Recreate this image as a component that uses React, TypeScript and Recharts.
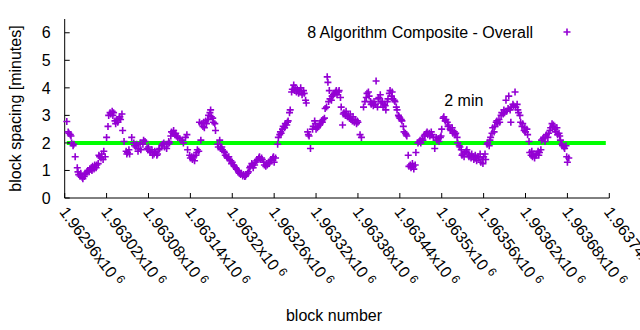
import React from "react";
import { ScatterChart, Scatter, XAxis, YAxis, ReferenceLine, ReferenceDot, Legend } from "recharts";

const BASE_BLOCK = 1962960;

const blockOffsets = [
  3, 5, 6, 8, 9, 10, 12, 13, 15, 18,
  19, 20, 22, 23, 25, 26, 28, 29, 30, 32,
  33, 35, 36, 38, 39, 40, 42, 43, 45, 46,
  48, 49, 50, 52, 53, 55, 56, 58, 60, 62,
  63, 65, 66, 68, 69, 70, 72, 73, 75, 76,
  78, 79, 80, 82, 83, 85, 88, 89, 90, 92,
  93, 96, 99, 100, 102, 103, 105, 106, 108, 109,
  112, 113, 115, 118, 119, 120, 122, 123, 125, 126,
  128, 129, 130, 132, 133, 135, 136, 139, 140, 142,
  143, 146, 148, 149, 150, 152, 153, 155, 156, 158,
  159, 160, 162, 165, 168, 170, 173, 175, 176, 179,
  180, 182, 183, 185, 186, 188, 189, 190, 192, 193,
  195, 196, 198, 199, 200, 202, 203, 205, 206, 208,
  209, 210, 212, 213, 215, 216, 219, 220, 222, 223,
  225, 226, 228, 229, 230, 232, 233, 235, 236, 238,
  239, 240, 242, 243, 245, 246, 248, 249, 250, 252,
  253, 255, 256, 258, 259, 260, 262, 263, 265, 266,
  268, 269, 270, 272, 273, 275, 276, 278, 279, 280,
  282, 283, 285, 286, 288, 289, 290, 292, 293, 295,
  296, 298, 299, 300, 302, 305, 306, 308, 309, 310,
  312, 313, 315, 316, 318, 319, 320, 322, 323, 325,
  326, 328, 329, 330, 332, 333, 335, 336, 338, 339,
  340, 342, 343, 345, 346, 348, 349, 350, 352, 355,
  356, 358, 359, 360, 362, 363, 365, 366, 368, 369,
  370, 372, 373, 375, 376, 377, 378, 379, 380, 382,
  383, 385, 386, 388, 389, 390,
  392, 393, 395, 396, 398, 399, 400, 402, 403, 405,
  406, 408, 409, 410, 412, 413, 415, 416, 418, 419,
  420, 423, 425, 428, 430, 432, 433, 435, 436, 438,
  439, 440, 442, 443, 445, 446, 448, 449, 450, 452,
  453, 455, 456, 458, 459, 460, 462, 463, 465, 466,
  468, 469, 470, 472, 473, 475, 476, 478, 479, 480,
  482, 483, 485, 486, 488, 489, 490, 492, 493, 495,
  496, 498, 499, 500, 502, 503, 506, 508, 509, 510,
  512, 513, 515, 516, 518, 519, 520, 522, 523, 525,
  526, 528, 530, 532, 533, 535, 536, 538, 539, 540,
  542, 543, 545, 546, 548, 549, 550, 552, 553, 555,
  556, 558, 559, 560, 562, 563, 565, 566, 568, 569,
  570, 572, 573, 575, 576, 578, 579,
  580, 582, 583, 585, 586, 588, 589, 590, 592, 593,
  595, 596, 598, 599, 600, 602, 603, 605, 606, 608,
  609, 610, 612, 613, 615, 616, 618, 619, 620, 622,
  623, 625, 626, 628, 629, 630, 632, 633, 635, 636,
  638, 639, 640, 642, 643, 645, 646, 648, 649, 650,
  652, 653, 655, 656, 658, 659, 660, 662, 663, 665,
  666, 668, 669, 670, 672, 673, 675, 676, 678, 679,
  680, 682, 683, 685, 686, 688, 689, 690, 692, 693,
  695, 696, 698, 699, 700, 702, 703, 705, 706, 708,
  709, 710, 712, 713, 715, 716, 718, 719, 720, 722,
];

const spacingMinutes = [
  2.78, 2.4, 2.35, 2.3, 2.25, 2.0, 1.9, 1.95, 1.5, 1.1,
  0.95, 0.85, 0.8, 0.9, 0.75, 0.7, 0.78, 0.85, 0.9, 0.95,
  1.0, 0.95, 1.05, 1.1, 1.0, 1.15, 1.05, 1.2, 1.1, 1.2,
  1.25, 1.55, 1.5, 1.45, 1.6, 1.4, 1.7, 1.5, 2.2, 2.6,
  3.0, 3.1, 3.05, 3.15, 3.0, 3.1, 2.8, 2.7, 2.85, 2.75,
  2.9, 2.95, 2.85, 3.05, 2.45, 2.05, 1.7, 1.6, 1.65, 1.75,
  1.6, 2.2, 2.0, 1.9, 1.85, 1.95, 1.7, 1.8, 2.0, 1.75,
  1.95, 2.1, 2.05, 1.8, 1.75, 1.85, 1.7, 1.65, 1.75, 1.55,
  1.6, 1.7, 1.65, 1.55, 1.6, 1.75, 1.8, 1.9, 1.95, 2.0,
  1.85, 1.8, 1.95, 2.05, 2.0, 2.25, 2.4, 2.35, 2.45, 2.3,
  2.35, 2.25, 2.2, 2.15, 2.1, 2.0, 2.2, 2.3, 1.75, 1.55,
  1.45, 1.5, 1.4, 1.5, 1.35, 1.55, 1.65, 1.75, 1.7, 2.75,
  2.1, 2.7, 2.6, 2.75, 2.55, 2.8, 2.7, 2.85, 3.0, 3.1,
  3.2, 2.95, 2.9, 2.75, 2.7, 2.45, 1.95, 1.85, 2.1, 1.8,
  1.85, 1.75, 1.7, 1.65, 1.55, 1.5, 1.45, 1.5, 1.4, 1.35,
  1.25, 1.3, 1.2, 1.15, 1.1, 1.05, 1.0, 0.95, 0.9, 0.85,
  0.9, 0.8, 0.85, 0.78, 0.8, 0.85, 0.9, 0.95, 1.1, 1.15,
  1.25, 1.2, 1.1, 1.2, 1.3, 1.35, 1.4, 1.45, 1.5, 1.4,
  1.45, 1.4, 1.3, 1.2, 1.15, 1.25, 1.2, 1.3, 1.25, 1.35,
  1.4, 1.45, 1.5, 1.3, 1.45, 1.95, 2.2, 2.3, 2.4, 2.35,
  2.5, 2.6, 2.55, 2.7, 2.65, 2.75, 2.8, 3.1, 3.2, 3.85,
  3.95, 4.1, 3.9, 4.0, 3.85, 3.95, 3.8, 3.9, 4.0, 3.85,
  3.75, 3.9, 3.8, 3.55, 3.45, 2.4, 2.3, 2.25, 1.8, 2.5,
  2.6, 2.8, 2.7, 2.5, 2.55, 2.6, 2.65, 2.7, 2.8, 2.75,
  2.85, 2.9, 3.25, 3.3, 4.4, 4.2, 3.5, 3.9, 3.6, 3.55,
  3.7, 3.75, 3.8, 3.85, 3.9, 3.75,
  3.85, 3.9, 3.65, 3.3, 2.65, 3.05, 3.1, 3.0, 3.15, 2.95,
  3.0, 2.9, 3.05, 2.85, 2.8, 2.95, 2.75, 2.85, 2.7, 2.8,
  2.75, 2.3, 2.2, 3.3, 3.5, 3.65, 3.8, 3.85, 3.7, 3.5,
  3.4, 3.45, 3.35, 3.5, 3.4, 4.25, 3.3, 3.6, 3.65, 3.75,
  3.45, 3.5, 3.3, 3.4, 3.35, 3.2, 3.5, 3.6, 3.8, 3.9,
  3.7, 3.85, 3.6, 3.55, 3.5, 3.3, 3.2, 3.0, 2.95, 2.9,
  2.85, 2.8, 2.6, 2.4, 2.35, 2.3, 2.25, 1.55, 1.15, 1.2,
  1.1, 1.25, 1.15, 1.05, 1.2, 1.65, 2.0, 2.05, 2.1, 2.0,
  2.15, 2.1, 2.25, 2.3, 2.35, 2.4, 2.3, 2.35, 2.25, 2.4,
  2.3, 2.2, 1.8, 2.2, 2.1, 2.15, 2.05, 2.2, 2.25, 2.5,
  2.9, 2.95, 2.8, 2.85, 2.75, 2.6, 2.65, 2.5, 2.45, 2.55,
  2.35, 2.4, 2.3, 2.35, 2.2, 2.0, 1.9, 1.85, 1.75, 1.55,
  1.6, 1.5, 1.65, 1.7, 1.75, 1.6, 1.5,
  1.55, 1.45, 1.6, 1.5, 1.4, 1.55, 1.45, 1.35, 1.5, 1.45,
  1.6, 1.3, 1.4, 1.25, 1.5, 1.6, 1.4, 1.95, 2.0, 1.9,
  2.1, 2.2, 2.35, 2.55, 2.4, 2.6, 2.75, 2.8, 2.7, 2.85,
  2.75, 3.0, 3.1, 3.05, 3.2, 3.1, 3.55, 3.15, 3.25, 3.7,
  3.2, 2.75, 3.3, 3.4, 3.35, 3.85, 3.3, 3.4, 3.2, 3.1,
  3.0, 2.75, 2.6, 2.7, 2.45, 2.55, 2.4, 2.5, 2.3, 2.05,
  1.65, 1.55, 1.7, 1.5, 1.6, 1.45, 1.55, 1.6, 1.7, 1.55,
  1.65, 1.75, 2.1, 2.15, 2.2, 2.05, 2.25, 2.3, 2.2, 2.35,
  2.45, 2.55, 2.7, 2.6, 2.65, 2.5, 2.4, 2.55, 2.3, 2.35,
  2.25, 2.1, 1.95, 1.9, 1.85, 1.8, 1.9, 1.5, 1.3, 1.45,
];

const xTickValues = [
  1962960, 1963020, 1963080, 1963140, 1963200, 1963260, 1963320,
  1963380, 1963440, 1963500, 1963560, 1963620, 1963680, 1963740,
];
const yTickValues = [0, 1, 2, 3, 4, 5, 6];
const xDomain = [1962960, 1963740];
const yDomain = [0, 6.5];

const seriesName = "8 Algorithm Composite - Overall";
const xAxisTitle = "block number";
const yAxisTitle = "block spacing [minutes]";
const targetMinutes = 2;
const targetStartBlock = 1962963;
const targetEndBlock = 1963735;
const targetLabel = "2 min";
const targetLabelBlock = 1963505;
const targetLabelValue = 3.53;

const PURPLE = "#9400d3";
const GREEN = "#00ff00";
const FONT = "'Liberation Sans', Arial, sans-serif";
const TICK_ANGLE = 53;

const points = blockOffsets.map((o, i) => ({ block: BASE_BLOCK + o, spacing: spacingMinutes[i] }));

const fmtMantissa = (v: number) => parseFloat((v / 1e6).toFixed(5)).toString();

const PlusShape = (props: any) => {
  const { cx, cy } = props;
  if (cx == null || cy == null || isNaN(cx) || isNaN(cy)) return null;
  return (
    <path
      d={`M${cx - 3.5},${cy}H${cx + 3.5}M${cx},${cy - 3.5}V${cy + 3.5}`}
      stroke={PURPLE}
      strokeWidth={1.6}
      fill="none"
    />
  );
};

const BottomTick = (props: any) => {
  const { x, y, payload } = props;
  return (
    <g>
      <line x1={x} y1={y} x2={x} y2={y - 5} stroke="#000" strokeWidth={1} />
      <text
        transform={`translate(${x - 6},${y + 14}) rotate(${TICK_ANGLE})`}
        fontSize={16}
        fontFamily={FONT}
        fill="#000"
        textAnchor="start"
      >
        {fmtMantissa(payload.value)}x10
        <tspan dx={4} dy={-5} fontSize={12}>6</tspan>
      </text>
    </g>
  );
};

const TopTick = (props: any) => {
  const { x, y } = props;
  return <line x1={x} y1={y} x2={x} y2={y + 5} stroke="#000" strokeWidth={1} />;
};

const LeftTick = (props: any) => {
  const { x, y, payload } = props;
  return (
    <g>
      <line x1={x} y1={y} x2={x + 5} y2={y} stroke="#000" strokeWidth={1} />
      <text x={x - 14} y={y} dy={5.7} textAnchor="end" fontSize={16} fontFamily={FONT} fill="#000">
        {payload.value}
      </text>
    </g>
  );
};

const RightTick = (props: any) => {
  const { x, y } = props;
  return <line x1={x} y1={y} x2={x - 5} y2={y} stroke="#000" strokeWidth={1} />;
};

const LegendContent = () => (
  <svg width={640} height={60} style={{ position: "absolute", left: 0, top: 0 }}>
    <text x={533} y={37.7} textAnchor="end" fontSize={16} fontFamily={FONT} fill="#000">
      {seriesName}
    </text>
    <PlusShape cx={567} cy={32} />
  </svg>
);

export default function App() {
  return (
    <div style={{ position: "absolute", left: 0, top: 0, width: 640, height: 330, background: "#fff", overflow: "hidden" }}>
      <ScatterChart
        width={640}
        height={330}
        margin={{ top: 19, right: 30.7, bottom: 0, left: 0 }}
        style={{ fontFamily: FONT }}
      >
        <XAxis
          dataKey="block"
          type="number"
          domain={xDomain}
          ticks={xTickValues}
          interval={0}
          height={132}
          tickSize={0}
          tickMargin={0}
          tickLine={false}
          axisLine={{ stroke: "#000", strokeWidth: 1 }}
          tick={<BottomTick />}
          label={{
            content: (p: any) => {
              const vb = p.viewBox || {};
              return (
                <text x={vb.x + vb.width / 2 - 3} y={321} textAnchor="middle" fontSize={16} fontFamily={FONT} fill="#000">
                  {xAxisTitle}
                </text>
              );
            },
          }}
        />
        <XAxis
          xAxisId="top"
          orientation="top"
          type="number"
          domain={xDomain}
          ticks={xTickValues}
          interval={0}
          height={0}
          tickSize={0}
          tickMargin={0}
          tickLine={false}
          axisLine={{ stroke: "#000", strokeWidth: 1 }}
          tick={<TopTick />}
        />
        <YAxis
          dataKey="spacing"
          type="number"
          domain={yDomain}
          ticks={yTickValues}
          interval={0}
          width={64.7}
          tickSize={0}
          tickMargin={0}
          tickLine={false}
          axisLine={{ stroke: "#000", strokeWidth: 1 }}
          tick={<LeftTick />}
          label={{
            content: (p: any) => {
              const vb = p.viewBox || {};
              const cy = vb.y + vb.height / 2;
              return (
                <text
                  transform={`translate(20.5,${cy}) rotate(-90)`}
                  textAnchor="middle"
                  fontSize={16}
                  fontFamily={FONT}
                  fill="#000"
                >
                  {yAxisTitle}
                </text>
              );
            },
          }}
        />
        <YAxis
          yAxisId="right"
          orientation="right"
          type="number"
          domain={yDomain}
          ticks={yTickValues}
          interval={0}
          width={0}
          tickSize={0}
          tickMargin={0}
          tickLine={false}
          axisLine={{ stroke: "#000", strokeWidth: 1 }}
          tick={<RightTick />}
        />
        <Legend
          layout="horizontal"
          verticalAlign="middle"
          align="center"
          wrapperStyle={{ position: "absolute", left: 0, top: 0, width: 640, height: 60, margin: 0 }}
          content={() => <LegendContent />}
        />
        <Scatter name={seriesName} data={points} shape={PlusShape} isAnimationActive={false} />
        <ReferenceLine
          segment={[
            { x: targetStartBlock, y: targetMinutes },
            { x: targetEndBlock, y: targetMinutes },
          ]}
          stroke={GREEN}
          strokeWidth={4}
        />
        <ReferenceDot
          x={targetLabelBlock}
          y={targetLabelValue}
          r={1}
          fill="none"
          stroke="none"
          label={{
            content: (p: any) => {
              const vb = p.viewBox || {};
              return (
                <text x={vb.x} y={vb.y + 1} dy={5.7} textAnchor="start" fontSize={16} fontFamily={FONT} fill="#000">
                  {targetLabel}
                </text>
              );
            },
          }}
        />
      </ScatterChart>
    </div>
  );
}
